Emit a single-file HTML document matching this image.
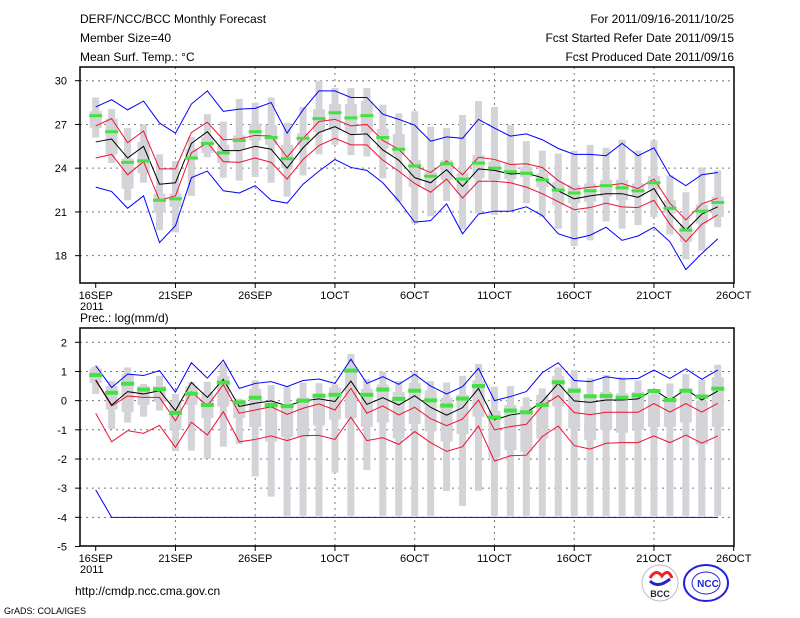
<!DOCTYPE html>
<html><head><meta charset="utf-8"><style>
body{margin:0;background:#fff;}
svg{display:block;font-family:"Liberation Sans",sans-serif;}
</style></head><body>
<svg id="chart" width="800" height="618" viewBox="0 0 800 618">
<g id="hdr" font-size="12" fill="#000">
<text x="80" y="23">DERF/NCC/BCC Monthly Forecast</text>
<text x="80" y="42">Member Size=40</text>
<text x="80" y="61">Mean Surf. Temp.: °C</text>
<text x="734" y="23" text-anchor="end">For 2011/09/16-2011/10/25</text>
<text x="734" y="42" text-anchor="end">Fcst Started Refer Date 2011/09/15</text>
<text x="734" y="61" text-anchor="end">Fcst Produced Date 2011/09/16</text>
<text x="80" y="322">Prec.: log(mm/d)</text>
<text x="75" y="595">http://cmdp.ncc.cma.gov.cn</text>
<text x="4" y="614" font-size="9">GrADS: COLA/IGES</text>
</g>
<g>
<circle cx="660" cy="583" r="18" fill="#fff" stroke="#bbb"/>
<path d="M650 578 q6 -10 12 -2 q6 -8 10 2" stroke="#e22" stroke-width="3" fill="none"/>
<path d="M650 581 q8 8 20 -2" stroke="#22c" stroke-width="3" fill="none"/>
<text x="660" y="597" font-size="9" text-anchor="middle" font-weight="bold" fill="#223">BCC</text>
</g>
<g>
<ellipse cx="706" cy="583" rx="22" ry="18" fill="#fff" stroke="#22d" stroke-width="2"/>
<ellipse cx="706" cy="583" rx="14" ry="11" fill="none" stroke="#22d"/>
<text x="708" y="587" font-size="10" text-anchor="middle" font-weight="bold" fill="#22d">NCC</text>
</g>
</svg>
<script>
// ---- temperature panel data (days 0..39 from 16SEP) ----
const dayLabels=["16SEP","21SEP","26SEP","1OCT","6OCT","11OCT","16OCT","21OCT","26OCT"];
const tTicks=[30,27,24,21,18];
const tGreen=[27.6,26.5,24.4,24.5,21.8,21.9,24.7,25.7,25.05,25.9,26.5,26.1,24.65,26.05,27.4,27.8,27.45,27.6,26.1,25.3,24.15,23.45,24.3,23.25,24.35,24.0,23.75,23.65,23.2,22.5,22.3,22.45,22.8,22.65,22.45,23.0,21.25,19.75,21.05,21.65];
const tMean=[25.8,26.0,24.7,25.5,22.9,23.0,25.7,26.5,25.2,25.2,25.5,25.3,24.0,25.4,26.45,26.85,26.3,26.35,25.25,24.55,23.35,23.0,23.9,22.75,23.95,23.85,23.6,23.65,23.35,22.45,21.9,22.1,22.25,22.25,22.0,22.6,20.9,19.75,20.85,21.35];
const tRedHi=[26.9,27.4,25.75,26.55,23.95,23.95,26.45,27.15,25.95,26.0,26.25,26.2,24.75,26.05,27.2,27.35,26.9,27.0,25.9,25.3,24.15,23.7,24.5,23.55,24.75,24.6,24.25,24.3,24.05,23.15,22.55,22.7,22.8,22.95,22.6,23.25,21.6,20.45,21.55,21.95];
const tRedLo=[24.7,24.95,23.55,24.45,21.8,22.1,25.05,25.75,24.45,24.4,24.7,24.4,23.25,24.6,25.55,26.05,25.6,25.6,24.55,23.8,22.95,22.35,23.25,21.95,23.1,23.1,23.0,22.7,22.25,21.7,21.15,21.3,21.6,21.35,21.3,21.8,20.15,18.95,20.15,20.8];
const tBlueHi=[28.2,28.7,28.0,28.6,27.1,26.4,28.4,29.3,27.9,28.05,28.1,28.5,26.4,28.0,29.3,29.3,28.85,28.85,27.7,27.35,26.95,25.85,26.15,26.05,27.35,26.75,26.2,26.35,25.95,25.35,24.95,24.95,24.85,25.7,24.85,25.4,23.5,22.8,23.55,23.7];
const tBlueLo=[22.7,22.4,21.25,22.1,18.9,20.05,23.35,23.8,22.45,22.3,22.8,21.8,21.6,22.9,23.8,24.6,24.05,23.85,23.0,21.75,20.3,20.4,21.55,19.5,20.85,21.05,21.05,21.35,20.75,19.5,19.15,19.4,19.95,19.05,19.35,19.95,18.95,17.05,18.15,19.15];
const tBarMax=[28.85,28.05,26.75,27.0,24.95,24.5,26.15,27.7,27.2,28.75,28.5,28.85,27.1,28.2,30.0,29.5,29.5,29.5,28.35,27.75,27.9,26.85,26.75,27.65,28.6,28.2,26.95,25.85,25.2,25.0,25.2,25.6,25.4,25.95,25.2,25.9,23.5,22.35,24.05,23.85];
const tBarMin=[26.1,24.35,21.8,23.0,19.75,19.6,22.1,24.75,23.35,23.15,23.4,23.0,22.05,23.5,24.95,25.6,24.9,24.8,23.3,21.7,20.2,20.7,21.75,19.8,20.9,20.8,21.1,21.6,20.65,19.85,18.65,19.05,20.35,19.85,20.1,20.65,19.45,17.75,18.35,19.95];
const tBoxHi=[27.9,27.4,24.65,25.8,22.25,22.25,25.35,26.15,25.6,26.25,27.05,26.95,25.6,26.4,28.05,28.4,28.4,28.6,26.7,26.35,24.55,23.75,24.55,23.65,24.9,24.45,24.3,24.1,23.65,23.05,22.85,22.95,23.2,23.2,22.95,23.45,21.8,20.15,21.5,22.05];
const tBoxLo=[26.75,24.95,22.6,23.65,20.95,21.35,24.55,25.05,24.35,25.25,25.9,25.6,24.0,25.6,26.5,26.6,26.4,26.45,25.35,24.9,22.7,22.6,23.2,22.25,23.3,23.2,23.25,23.4,22.7,21.45,21.6,21.7,22.05,21.8,22.05,22.55,20.9,18.95,20.2,20.65];
// ---- precipitation panel data ----
const pTicks=[2,1,0,-1,-2,-3,-4,-5];
const pGreen=[0.88,0.27,0.58,0.38,0.39,-0.42,0.24,-0.15,0.62,-0.06,0.1,-0.15,-0.19,0.0,0.17,0.2,1.03,0.2,0.38,0.06,0.34,0.01,-0.17,0.07,0.5,-0.58,-0.34,-0.4,-0.15,0.63,0.34,0.15,0.16,0.1,0.18,0.33,0.02,0.34,0.14,0.41];
const pMean=[0.71,-0.15,0.31,0.23,0.34,-0.34,0.62,0.11,0.73,-0.2,-0.09,-0.01,-0.18,-0.01,0.06,-0.03,0.67,-0.13,0.1,-0.15,0.17,-0.23,-0.5,-0.24,0.42,-0.66,-0.49,-0.41,-0.03,0.59,-0.01,-0.06,0.02,0.02,0.06,0.37,0.02,0.39,0.02,0.33];
const pRedHi=[0.69,-0.18,0.16,0.11,0.11,-0.69,0.3,-0.18,0.55,-0.43,-0.32,-0.21,-0.47,-0.26,-0.11,-0.32,0.42,-0.43,-0.18,-0.49,-0.23,-0.62,-0.86,-0.63,0.02,-1.0,-0.89,-0.81,-0.18,0.17,-0.41,-0.48,-0.4,-0.4,-0.4,-0.1,-0.39,-0.1,-0.39,-0.09];
const pRedLo=[-0.43,-1.41,-1.03,-1.12,-0.85,-1.6,-0.74,-1.18,-0.38,-1.41,-1.33,-1.21,-1.37,-1.2,-1.19,-1.33,-0.57,-1.37,-1.27,-1.5,-1.06,-1.44,-1.74,-1.58,-0.87,-2.07,-1.89,-1.87,-1.23,-0.87,-1.54,-1.66,-1.46,-1.44,-1.44,-1.21,-1.44,-1.18,-1.46,-1.21];
const pBlueHi=[1.2,0.45,0.91,0.86,1.03,0.29,1.3,0.77,1.39,0.42,0.59,0.65,0.48,0.69,0.74,0.59,1.42,0.59,0.82,0.56,0.9,0.5,0.23,0.48,1.11,0.0,0.14,0.31,0.96,1.3,0.69,0.65,0.82,0.74,0.76,1.05,0.76,1.09,0.73,1.05];
const pBlueLo=[-3.06,-4,-4,-4,-4,-4,-4,-4,-4,-4,-4,-4,-4,-4,-4,-4,-4,-4,-4,-4,-4,-4,-4,-4,-4,-4,-4,-4,-4,-4,-4,-4,-4,-4,-4,-4,-4,-4,-4,-4];
const pBarMax=[1.17,0.67,1.14,0.57,0.85,0.23,0.65,0.65,1.28,0.07,0.7,0.53,0.48,0.62,0.6,0.56,1.6,0.74,1.0,0.67,0.97,0.67,0.62,0.85,1.26,0.48,0.5,0.11,0.42,1.14,1.05,0.77,0.88,0.8,0.69,0.4,0.59,0.91,0.71,1.23];
const pBarMin=[0.23,-0.97,-0.75,-0.55,-0.34,-1.73,-1.71,-1.99,-1.58,-1.49,-2.6,-3.29,-3.95,-3.95,-3.95,-2.47,-3.95,-2.38,-3.95,-3.95,-3.95,-3.95,-3.1,-3.61,-3.09,-3.95,-3.95,-3.95,-3.95,-3.95,-3.95,-3.95,-3.95,-3.95,-3.95,-3.95,-3.95,-3.95,-3.95,-3.95];
const pBoxHi=[1.1,0.5,0.9,0.5,0.5,0,0.5,0.3,0.85,-0.1,0.4,-0.1,-0.1,0.1,0.2,0.45,1.15,0.4,0.55,0.3,0.6,0.35,0.1,0.2,0.7,-0.35,-0.15,-0.2,0.2,0.85,0.45,0.1,0.3,0.25,0.3,0.2,0.0,0.35,0.0,0.8];
const pBoxLo=[0.6,-0.3,-0.4,-0.15,-0.05,-1.0,-0.15,-0.6,-0.2,-0.6,-0.9,-1.4,-1.25,-1.25,-0.85,-0.65,-0.6,-0.9,-0.75,-1.3,-0.8,-1.05,-1.4,-1.15,-0.55,-1.95,-1.7,-1.75,-1.3,-0.2,-0.95,-1.35,-1.0,-1.1,-1.0,-0.9,-0.9,-0.75,-1.5,-0.9];

const NS="http://www.w3.org/2000/svg";
const svg=document.getElementById('chart');
const xDay=d=>95.7+15.95*d;
function mk(tag,attrs,parent){const e=document.createElementNS(NS,tag);for(const k in attrs)e.setAttribute(k,attrs[k]);(parent||svg).appendChild(e);return e;}

function panel(cfg){
  const y=cfg.y;
  const g=mk('g',{});
  
  
  cfg.ticks.forEach(t=>{
    if(t>cfg.min && t<cfg.max){
      const l=mk('line',{x1:cfg.L,x2:cfg.R,y1:y(t),y2:y(t),stroke:'#777','stroke-dasharray':'2,4','stroke-width':1},g);
      
      
    }
    const tx=mk('text',{x:cfg.L-13,y:y(t)+4,'text-anchor':'end','font-size':11},g);
    tx.textContent=t;
    
    
    mk('line',{x1:cfg.L-5,x2:cfg.L,y1:y(t),y2:y(t),stroke:'#000'},g);
  });
  dayLabels.forEach((lab,i)=>{
    const x=xDay(i*5);
    if(i>0&&i<8){
      const l=mk('line',{x1:x,x2:x,y1:cfg.T,y2:cfg.B,stroke:'#777','stroke-dasharray':'2,4'},g);
      
      
    }
    mk('line',{x1:x,x2:x,y1:cfg.B,y2:cfg.B+5,stroke:'#000'},g);
    const tx=mk('text',{x:x,y:cfg.B+16,'text-anchor':'middle','font-size':11},g);
    tx.textContent=lab;
    
    
  });
  const yr=mk('text',{x:80,y:cfg.B+27,'font-size':11},g);
  yr.textContent='2011';
  
  
  cfg.bmax.forEach((v,i)=>{
    const x=xDay(i);
    const b=mk('rect',{x:x-3.5,y:y(v),width:7,height:y(cfg.bmin[i])-y(v),fill:'#d3d3d8'},g);
    
    
    const bx=mk('rect',{x:x-6,y:y(cfg.qhi[i]),width:12,height:y(cfg.qlo[i])-y(cfg.qhi[i]),fill:'#d3d3d8'},g);
    
    
  });
  const line=(arr,col,name)=>{
    const p=mk('polyline',{points:arr.map((v,i)=>xDay(i)+','+y(v)).join(' '),fill:'none',stroke:col,'stroke-width':1},g);
    
    
  };
  line(cfg.blo,'#0000ff','blue-lower-line');
  line(cfg.bhi,'#0000ff','blue-upper-line');
  line(cfg.rlo,'#ee1133','red-lower-line');
  line(cfg.rhi,'#ee1133','red-upper-line');
  line(cfg.mean,'#000','ensemble-mean-line');
  cfg.green.forEach((v,i)=>{
    const m=mk('rect',{x:xDay(i)-6.5,y:y(v)-cfg.gh/2,width:13,height:cfg.gh,fill:'#44e044'},g);
    
    
  });
  const f=mk('rect',{x:cfg.L,y:cfg.T,width:cfg.R-cfg.L,height:cfg.B-cfg.T,fill:'none',stroke:'#000','stroke-width':1.5},g);
  
  
}
panel({name:'temperature-panel',L:80,R:734,T:67,B:283,min:16,max:31,y:v=>80.7+(30-v)*14.58,ticks:tTicks,
  bmax:tBarMax,bmin:tBarMin,qhi:tBoxHi,qlo:tBoxLo,green:tGreen,mean:tMean,rhi:tRedHi,rlo:tRedLo,bhi:tBlueHi,blo:tBlueLo,gh:3});
panel({name:'precipitation-panel',L:80,R:734,T:328,B:546,min:-5,max:2.5,y:v=>342.3+(2-v)*29.17,ticks:pTicks,
  bmax:pBarMax,bmin:pBarMin,qhi:pBoxHi,qlo:pBoxLo,green:pGreen,mean:pMean,rhi:pRedHi,rlo:pRedLo,bhi:pBlueHi,blo:pBlueLo,gh:4});
</script>
</body></html>
